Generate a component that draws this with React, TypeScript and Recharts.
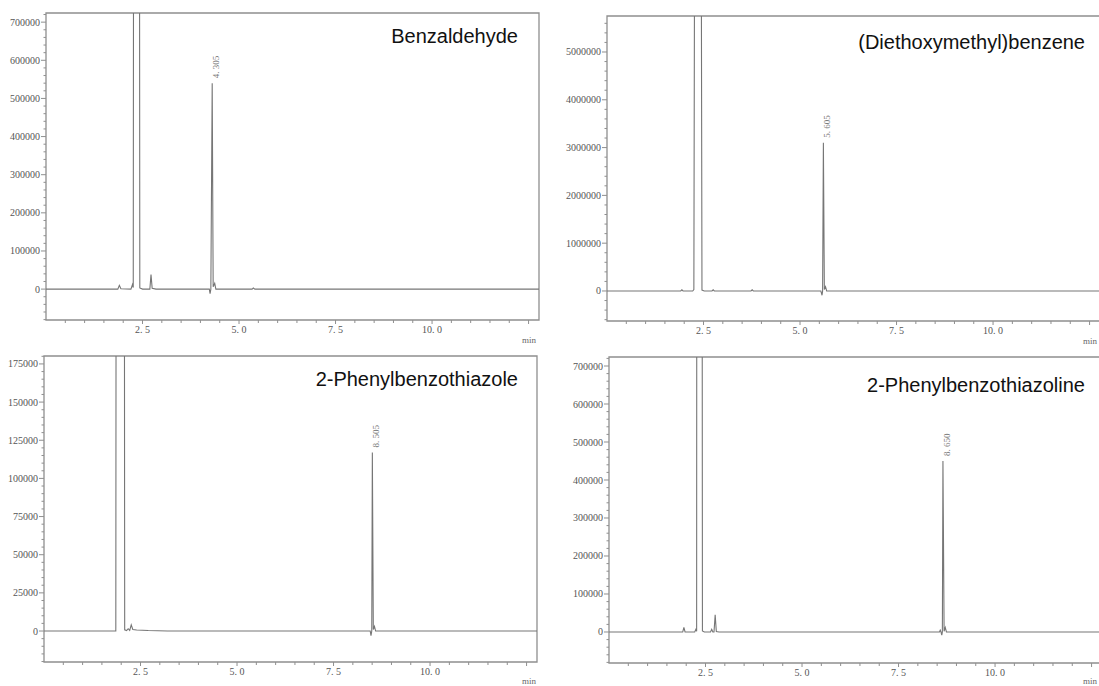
import { LineChart, Line, XAxis, YAxis, ReferenceArea, ReferenceDot } from 'recharts';

// retention time (min), detector signal
const benzaldehydeTrace: [number, number][] = [
  [0, 0], [1.86, 0], [1.9, 10000], [1.94, 800], [2.2, 0], [2.24, 12000], [2.26, 4000],
  [2.28, 2500000], [2.41, 2500000], [2.43, 3000], [2.5, 0], [2.69, 0], [2.72, 38000],
  [2.75, 2000], [2.85, 0], [4.23, 0], [4.25, -12000], [4.27, 0], [4.305, 540000],
  [4.33, 6000], [4.37, 15000], [4.4, 0], [5.34, 0], [5.37, 3000], [5.41, 0], [12.77, 0],
];

const diethoxyTrace: [number, number][] = [
  [0, 0], [1.91, 0], [1.94, 25000], [1.97, 0], [2.22, 0], [2.25, 30000],
  [2.27, 8000000], [2.44, 8000000], [2.46, 20000], [2.52, 0], [2.72, 0], [2.75, 25000],
  [2.78, 0], [3.73, 0], [3.76, 25000], [3.79, 0], [5.54, 0], [5.57, -90000], [5.585, 0],
  [5.605, 3100000], [5.63, 30000], [5.66, 90000], [5.69, 0], [12.77, 0],
];

const thiazoleTrace: [number, number][] = [
  [0, 0], [1.86, 0], [1.89, 1000000], [2.06, 1000000], [2.09, 800], [2.14, 300],
  [2.18, 1500], [2.22, 400], [2.26, 4000], [2.3, 1000], [2.4, 700], [2.7, 300],
  [3.2, 0], [8.45, 0], [8.47, -3000], [8.49, 0], [8.505, 117000], [8.53, 1000],
  [8.56, 3000], [8.59, 0], [12.77, 0],
];

const thiazolineTrace: [number, number][] = [
  [0, 0], [1.91, 0], [1.94, 12000], [1.97, 0], [2.22, 0], [2.25, 7000], [2.27, 2000],
  [2.28, 3000000], [2.4, 3000000], [2.42, 3000], [2.47, 0], [2.63, 0], [2.66, 7000],
  [2.69, 0], [2.72, 0], [2.75, 45000], [2.78, 1000], [2.85, 0], [8.56, 0], [8.58, 5000],
  [8.6, 0], [8.62, -8000], [8.635, 0], [8.65, 450000], [8.68, 2000], [8.71, 12000],
  [8.74, 0], [12.77, 0],
];

const timeTicks = [
  0.5, 1, 1.5, 2, 2.5, 3, 3.5, 4, 4.5, 5, 5.5, 6, 6.5, 7, 7.5, 8, 8.5, 9, 9.5, 10,
  10.5, 11, 11.5, 12, 12.5,
];
const timeLabels = [2.5, 5, 7.5, 10];

const major700k = [0, 100000, 200000, 300000, 400000, 500000, 600000, 700000];
const major5M = [0, 1000000, 2000000, 3000000, 4000000, 5000000];
const major175k = [0, 25000, 50000, 75000, 100000, 125000, 150000, 175000];

const T_END = 12.77;
const AXIS = '#8f8f8f';
const TICK_TEXT = '#555';
const SERIF = '"Liberation Serif", "DejaVu Serif", serif';

function steps(from: number, to: number, step: number) {
  const out: number[] = [];
  for (let v = from; v <= to + 1e-6; v += step) out.push(Math.round(v));
  return out;
}

const XTick = (props: any) => {
  const { x, y, payload } = props;
  const v = payload.value;
  const labelled = timeLabels.includes(v);
  const long = labelled || v === 12.5;
  return (
    <g>
      <line x1={x} x2={x} y1={y} y2={y + (long ? 4 : 3)} stroke={AXIS} />
      {labelled && (
        <text x={x} y={y + 13} textAnchor="middle" fontSize={10} fontFamily={SERIF} fill={TICK_TEXT}>
          {v.toFixed(1).replace('.', '. ')}
        </text>
      )}
    </g>
  );
};

const makeYTick = (majors: number[]) => (props: any) => {
  const { x, y, payload } = props;
  const major = majors.includes(payload.value);
  return (
    <g>
      <line x1={x - (major ? 5 : 2.5)} x2={x} y1={y} y2={y} stroke={AXIS} />
      {major && (
        <text x={x - 6} y={y} dy="0.35em" textAnchor="end" fontSize={10} fontFamily={SERIF} fill={TICK_TEXT}>
          {payload.value}
        </text>
      )}
    </g>
  );
};

interface ChromProps {
  left: number;
  top: number;
  width: number;
  height: number;
  marginTop: number;
  marginRight: number;
  yWidth: number;
  xHeight: number;
  trace: [number, number][];
  yDomain: [number, number];
  yMajor: number[];
  yStep: number;
  peak: [number, number, string];
}

function Chromatogram(p: ChromProps) {
  const data = p.trace.map(([t, v]) => ({ t, v }));
  const first = Math.ceil(p.yDomain[0] / p.yStep) * p.yStep;
  const yTicks = steps(first, p.yDomain[1], p.yStep);
  const [pt, pv, plabel] = p.peak;
  return (
    <div style={{ position: 'absolute', left: p.left, top: p.top }}>
      <LineChart
        width={p.width}
        height={p.height}
        data={data}
        margin={{ top: p.marginTop, right: p.marginRight, bottom: 0, left: 0 }}
      >
        <XAxis
          dataKey="t"
          type="number"
          domain={[0, T_END]}
          allowDataOverflow
          ticks={timeTicks}
          interval={0}
          tick={XTick}
          tickLine={false}
          axisLine={false}
          tickSize={0}
          tickMargin={0}
          height={p.xHeight}
        />
        <YAxis
          type="number"
          domain={p.yDomain}
          allowDataOverflow
          ticks={yTicks}
          interval={0}
          tick={makeYTick(p.yMajor)}
          tickLine={false}
          axisLine={false}
          tickSize={0}
          tickMargin={0}
          width={p.yWidth}
        />
        <ReferenceArea
          x1={0}
          x2={T_END}
          y1={p.yDomain[0]}
          y2={p.yDomain[1]}
          fill="none"
          stroke={AXIS}
          strokeWidth={1.3}
          ifOverflow="visible"
        />
        <Line
          type="linear"
          dataKey="v"
          stroke="#767676"
          strokeWidth={1.1}
          dot={false}
          activeDot={false}
          isAnimationActive={false}
        />
        <ReferenceDot
          x={pt}
          y={pv}
          r={0}
          shape={(s: any) => (
            <text
              x={s.cx + 7}
              y={s.cy - 5}
              transform={`rotate(-90 ${s.cx + 7} ${s.cy - 5})`}
              fontSize={9}
              fontFamily={SERIF}
              fill="#777"
            >
              {plabel.replace('.', '. ')}
            </text>
          )}
        />
      </LineChart>
    </div>
  );
}

export default function App() {
  const title = { fontFamily: '"Liberation Sans", Arial, sans-serif', fontSize: 20, fill: '#111' };
  const minText = { fontFamily: SERIF, fontSize: 9, fill: '#666' };
  return (
    <div
      style={{
        position: 'absolute',
        left: 0,
        top: 0,
        width: 1099,
        height: 686,
        overflow: 'hidden',
        background: '#fff',
      }}
    >
      <Chromatogram
        left={0} top={0} width={549} height={343} marginTop={13} marginRight={10}
        yWidth={46} xHeight={23} trace={benzaldehydeTrace} yDomain={[-81000, 724000]}
        yMajor={major700k} yStep={20000} peak={[4.305, 540000, '4.305']}
      />
      <Chromatogram
        left={549} top={0} width={551} height={343} marginTop={16} marginRight={0}
        yWidth={58} xHeight={22} trace={diethoxyTrace} yDomain={[-628000, 5753000]}
        yMajor={major5M} yStep={200000} peak={[5.605, 3100000, '5.605']}
      />
      <Chromatogram
        left={0} top={343} width={549} height={343} marginTop={13} marginRight={12}
        yWidth={44} xHeight={24} trace={thiazoleTrace} yDomain={[-20300, 180200]}
        yMajor={major175k} yStep={5000} peak={[8.505, 117000, '8.505']}
      />
      <Chromatogram
        left={549} top={343} width={553} height={343} marginTop={14} marginRight={0}
        yWidth={60} xHeight={23} trace={thiazolineTrace} yDomain={[-81600, 723700]}
        yMajor={major700k} yStep={20000} peak={[8.65, 450000, '8.650']}
      />
      <svg width={1099} height={686} style={{ position: 'absolute', left: 0, top: 0, pointerEvents: 'none' }}>
        <text x={518} y={43} textAnchor="end" {...title}>Benzaldehyde</text>
        <text x={1085} y={49} textAnchor="end" {...title}>(Diethoxymethyl)benzene</text>
        <text x={518} y={386} textAnchor="end" {...title}>2-Phenylbenzothiazole</text>
        <text x={1085} y={392} textAnchor="end" {...title}>2-Phenylbenzothiazoline</text>
        <text x={522} y={343} {...minText}>min</text>
        <text x={1083} y={344} {...minText}>min</text>
        <text x={522} y={684} {...minText}>min</text>
        <text x={1083} y={684} {...minText}>min</text>
      </svg>
    </div>
  );
}
